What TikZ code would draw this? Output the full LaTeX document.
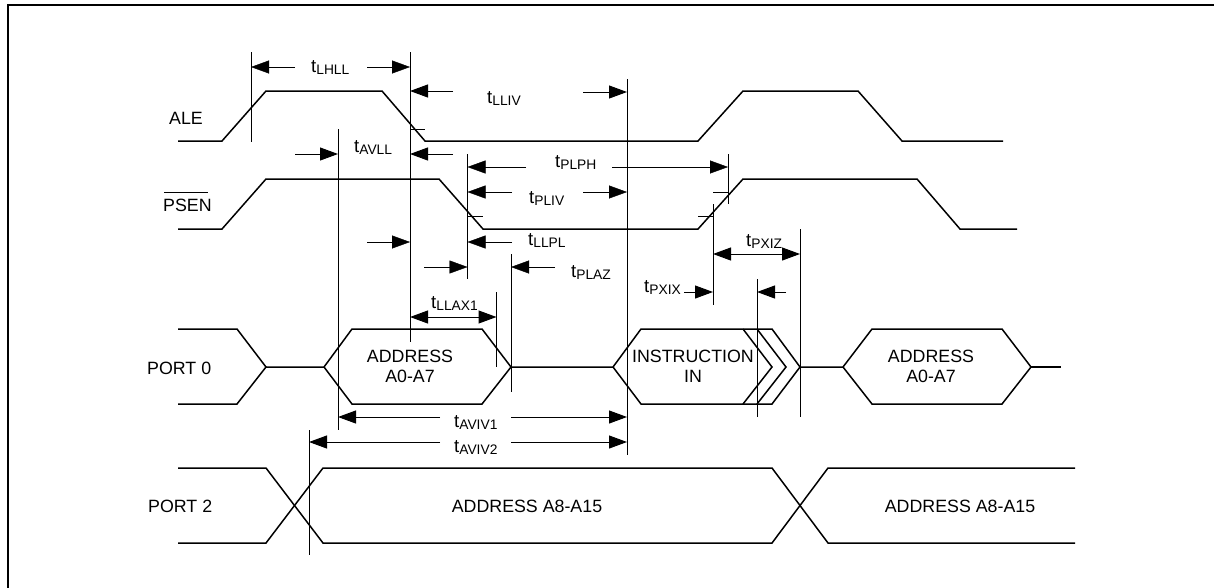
\documentclass[tikz,border=0pt]{standalone}
\usepackage{fontspec}
\setmainfont{Liberation Sans}
\usetikzlibrary{arrows.meta}
\definecolor{thin}{gray}{0.35}
\newcommand{\tsub}[1]{\fontsize{18.5}{20}\selectfont t\raisebox{-2.5pt}{\fontsize{13.8}{15}\selectfont #1}}
\tikzset{
 wave/.style={line width=1.5pt,black,line join=miter},
 guide/.style={line width=1pt,thin},
 guideblack/.style={line width=1pt,black},
 dimarrow/.style={line width=1pt,thin,-{Triangle[length=18pt,width=13pt,fill=black,color=black]}},
 dimarrowblack/.style={line width=1pt,black,-{Triangle[length=18pt,width=13pt]}},
 dimboth/.style={line width=1pt,black,{Triangle[length=18pt,width=13pt]}-{Triangle[length=18pt,width=13pt]}},
 lab/.style={font=\fontsize{17.8}{22}\selectfont,inner sep=0pt,anchor=base west},
 timing/.style={inner sep=0pt,anchor=base west},
 ctr/.style={font=\fontsize{17.8}{20}\selectfont,inner sep=0pt,anchor=base}
}
\begin{document}
\begin{tikzpicture}[x=1pt,y=-1pt]
\useasboundingbox (0,0) rectangle (1214,587);
\fill[white] (0,0) rectangle (1214,587);
% frame
\draw[line width=2pt] (8,600) -- (8,5) -- (1220,5);
% ALE
\draw[wave] (178,141) -- (222,141) -- (266,91) -- (382,91) -- (425,141) -- (698,141) -- (743,91) -- (858,91) -- (902,141) -- (1003,141);
% PSEN
\draw[wave] (178,229) -- (222,229) -- (266,179) -- (439,179) -- (483,229) -- (698,229) -- (743,179) -- (917,179) -- (960,229) -- (1017,229);
% PORT 0
\draw[wave] (178,329) -- (237,329) -- (266,367) -- (237,404) -- (178,404);
\draw[wave] (266,367) -- (324,367) -- (352,329) -- (482,329) -- (511,367) -- (482,404) -- (352,404) -- (324,367);
\draw[wave] (511,367) -- (613,367) -- (641,329) -- (772,329) -- (800,367) -- (772,404) -- (641,404) -- (613,367);
\draw[wave] (743,329) -- (772,367) -- (743,404);
\draw[wave] (757,329) -- (786,367) -- (757,404);
\draw[wave] (800,367) -- (843,367) -- (872,329) -- (1002,329) -- (1031,367) -- (1002,404) -- (872,404) -- (843,367);
\draw[wave] (1031,367) -- (1061,367);
% PORT 2
\draw[wave] (178,468) -- (266,468) -- (323,543) -- (772,543) -- (828,468) -- (1075,468);
\draw[wave] (178,543) -- (266,543) -- (323,468) -- (772,468) -- (828,543) -- (1075,543);
% guides
\draw[guide] (251,52) -- (251,142);
\draw[guide] (410,52) -- (410,342);
\draw[guide] (338,129) -- (338,430);
\draw[guide] (467.5,154) -- (467.5,279);
\draw[guide] (627,79) -- (627,455);
\draw[guide] (728,154) -- (728,204);
\draw[guide] (511,254) -- (511,392);
\draw[guide] (800,229) -- (800,417);
\draw[guide] (309,430) -- (309,555);
\draw[guideblack] (713,204) -- (713,305);
\draw[guideblack] (757,279) -- (757,417);
\draw[guideblack] (496.5,292) -- (496.5,367);
% ticks
\draw[guide] (410,129) -- (425,129);
\draw[guide] (467.5,216) -- (483,216);
\draw[guide] (698,216) -- (713,216);
\draw[guide] (713,192) -- (728,192);
% dimension arrows
\draw[dimarrow] (295,67) -- (251,67);
\draw[dimarrow] (367,67) -- (410,67);
\draw[dimarrowblack] (453,91) -- (410,91);
\draw[dimarrowblack] (583,92) -- (627,92);
\draw[dimarrowblack] (295,154) -- (338,154);
\draw[dimarrowblack] (453,154) -- (410,154);
\draw[dimarrow] (526,167) -- (467.5,167);
\draw[dimarrow] (612,167) -- (728,167);
\draw[dimarrow] (512,192) -- (467.5,192);
\draw[dimarrow] (583,192) -- (627,192);
\draw[dimarrow] (512,242) -- (467.5,242);
\draw[dimarrow] (367,242) -- (410,242);
\draw[dimarrow] (424,267) -- (467.5,267);
\draw[dimarrow] (555,267) -- (511,267);
\draw[dimboth] (410,317) -- (496.5,317);
\draw[dimboth] (713,254) -- (800,254);
\draw[dimarrowblack] (684,292) -- (713,292);
\draw[dimarrowblack] (786,292) -- (757,292);
\draw[dimarrowblack] (440,417) -- (338,417);
\draw[dimarrowblack] (511,417) -- (627,417);
\draw[dimarrowblack] (440,442) -- (309,442);
\draw[dimarrowblack] (511,442) -- (627,442);
% labels
\node[lab] (ale) at (169,124) {ALE};
\node[lab] (psen) at (163,211) {PSEN};
\draw[line width=1pt] (psen.north west)++(1,-6) -- ++(44,0);
\node[lab] (port0) at (147,374) {PORT 0};
\node[lab] (port2) at (148,512) {PORT 2};
\node[ctr] (addr1a) at (410,362) {ADDRESS};
\node[ctr] (addr1b) at (410,382) {A0-A7};
\node[ctr] (instr) at (693,362) {INSTRUCTION};
\node[ctr] (instrb) at (693,382) {IN};
\node[ctr] (addr2a) at (931,362) {ADDRESS};
\node[ctr] (addr2b) at (931,382) {A0-A7};
\node[ctr] (hi1) at (527,512) {ADDRESS A8-A15};
\node[ctr] (hi2) at (960,512) {ADDRESS A8-A15};
% timing labels
\node[timing] (lhll) at (311,72) {\tsub{LHLL}};
\node[timing] (lliv) at (487,103) {\tsub{LLIV}};
\node[timing] (avll) at (354,152) {\tsub{AVLL}};
\node[timing] (plph) at (555,167) {\tsub{PLPH}};
\node[timing] (pliv) at (529,203) {\tsub{PLIV}};
\node[timing] (llpl) at (528,245) {\tsub{LLPL}};
\node[timing] (plaz) at (571,277) {\tsub{PLAZ}};
\node[timing] (llax) at (431,308) {\tsub{LLAX1}};
\node[timing] (pxiz) at (746,246) {\tsub{PXIZ}};
\node[timing] (pxix) at (644,292) {\tsub{PXIX}};
\node[timing] (aviv1) at (454,427) {\tsub{AVIV1}};
\node[timing] (aviv2) at (454,452) {\tsub{AVIV2}};
\end{tikzpicture}
\end{document}
